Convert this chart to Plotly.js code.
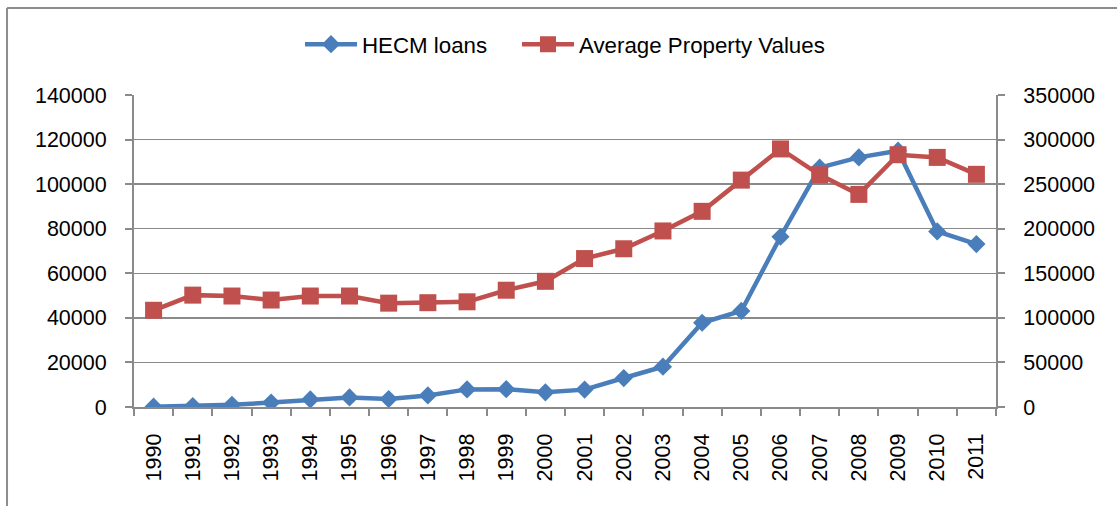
<!DOCTYPE html>
<html>
<head>
<meta charset="utf-8">
<script src="https://cdn.plot.ly/plotly-3.0.1.min.js"></script>
<style>
html,body{margin:0;padding:0;background:#fff;}
#chart{width:1117px;height:506px;}
</style>
</head>
<body>
<div id="chart"></div>
<script>
const years = ['1990','1991','1992','1993','1994','1995','1996','1997','1998','1999','2000',
  '2001','2002','2003','2004','2005','2006','2007','2008','2009','2010','2011'];
const hecmLoans = [157, 400, 1000, 2000, 3400, 4300, 3600, 5200, 7900, 8000, 6600,
  7800, 13000, 18100, 37800, 43100, 76400, 107400, 112000, 115000, 78800, 73100];
const avgPropertyValues = [108500, 125500, 124500, 120000, 124500, 124500, 116500, 117000, 118000, 131000, 141000,
  166500, 177500, 197500, 219500, 254500, 289500, 260500, 238500, 283000, 280000, 261000];

const blue = '#4a7ebb';
const red = '#c0504d';
const gridCol = '#8a8a8a';
const font = {family: 'Liberation Sans, Arial, sans-serif', size: 21.5, color: '#000'};
const legendFont = {family: 'Liberation Sans, Arial, sans-serif', size: 22.3, color: '#000'};

const traces = [
  {
    x: years, y: hecmLoans, name: 'HECM loans', type: 'scatter', mode: 'lines+markers',
    line: {color: blue, width: 4.5},
    marker: {symbol: 'diamond', size: 14, color: blue},
    yaxis: 'y', legend: 'legend'
  },
  {
    x: years, y: avgPropertyValues, name: 'Average Property Values', type: 'scatter', mode: 'lines+markers',
    line: {color: red, width: 4.5},
    marker: {symbol: 'square', size: 17, color: red},
    yaxis: 'y2', legend: 'legend2'
  }
];

const layout = {
  width: 1117, height: 506,
  margin: {l: 134, r: 121, t: 95, b: 99},
  paper_bgcolor: '#fff', plot_bgcolor: '#fff',
  font: font,
  showlegend: true,
  legend: {orientation: 'h', x: (300 - 134) / 862, xanchor: 'left', y: 1.163, yanchor: 'middle',
    font: legendFont, itemwidth: 52},
  legend2: {orientation: 'h', x: (517 - 134) / 862, xanchor: 'left', y: 1.163, yanchor: 'middle',
    font: legendFont, itemwidth: 52},
  xaxis: {
    type: 'category', tickangle: -90, showgrid: false,
    showline: true, linecolor: gridCol, linewidth: 2,
    ticks: 'outside', tickson: 'boundaries', ticklen: 7, tickcolor: gridCol, tickwidth: 2,
    ticklabelstandoff: 16,
    tickfont: font, range: [-0.5, 21.5], fixedrange: true
  },
  yaxis: {
    range: [0, 140000], dtick: 20000, tick0: 0,
    showgrid: true, gridcolor: gridCol, gridwidth: 1.5,
    showline: true, linecolor: gridCol, linewidth: 2,
    ticks: 'outside', ticklen: 7, tickcolor: gridCol, tickwidth: 2,
    ticklabelstandoff: 14,
    zeroline: false, tickfont: font, tickformat: 'd', fixedrange: true
  },
  yaxis2: {
    range: [0, 350000], dtick: 50000, tick0: 0, overlaying: 'y', side: 'right',
    showgrid: false,
    showline: true, linecolor: gridCol, linewidth: 2,
    ticks: 'outside', ticklen: 7, tickcolor: gridCol, tickwidth: 2,
    ticklabelstandoff: 14,
    zeroline: false, tickfont: font, tickformat: 'd', fixedrange: true
  },
  shapes: [
    {type: 'line', xref: 'paper', yref: 'paper', x0: -0.1473, x1: 1.15, y0: 1.2788, y1: 1.2788,
      line: {color: '#8c8c8c', width: 2}},
    {type: 'line', xref: 'paper', yref: 'paper', x0: -0.1473, x1: -0.1473, y0: 1.2788, y1: -0.33,
      line: {color: '#8c8c8c', width: 2}}
  ]
};

Plotly.newPlot('chart', traces, layout, {displayModeBar: false, staticPlot: true});
</script>
</body>
</html>
